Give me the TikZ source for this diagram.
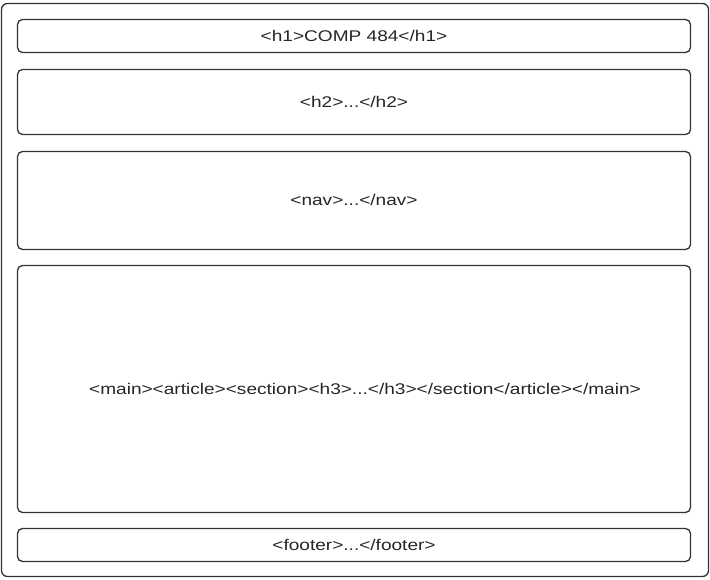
\documentclass[tikz,border=0pt]{standalone}
\usepackage{fontspec}
\setmainfont{Liberation Sans}[FakeStretch=1.23]
\begin{document}
\begin{tikzpicture}[x=1pt,y=-1pt,
  box/.style={draw=black!80,line width=1.3pt,rounded corners=5pt,fill=white},
  lbl/.style={font=\fontsize{15.5}{18}\selectfont,text=black!85,inner sep=0pt}]
\useasboundingbox (0,0) rectangle (710,580);
\draw[box,rounded corners=6pt] (1.5,3.5) rectangle (708.5,576.5);
\draw[box] (17.5,19.5) rectangle (690.5,52.5);
\node[lbl] (h1) at (354,36) {<h1>COMP 484</h1>};
\draw[box] (17.5,69.5) rectangle (690.5,134.5);
\node[lbl] (h2) at (354,102) {<h2>...</h2>};
\draw[box] (17.5,151.5) rectangle (690.5,249.5);
\node[lbl] (nav) at (354,200) {<nav>...</nav>};
\draw[box] (17.5,265.5) rectangle (690.5,512.5);
\node[lbl] (main) at (365,389) {<main><article><section><h3>...</h3></section</article></main>};
\draw[box] (17.5,528.5) rectangle (690.5,561.5);
\node[lbl] (footer) at (354,545) {<footer>...</footer>};
\end{tikzpicture}
\end{document}
